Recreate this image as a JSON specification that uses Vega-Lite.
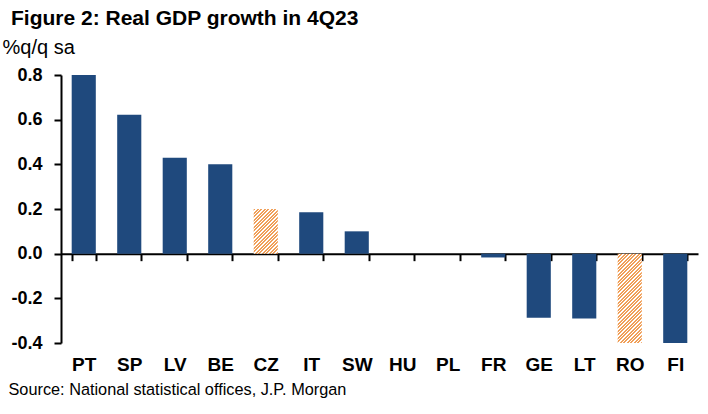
{
  "$schema": "https://vega.github.io/schema/vega-lite/v6.json",
  "width": 637,
  "height": 268,
  "autosize": {"type": "none"},
  "padding": {"left": 61, "top": 75, "right": 10, "bottom": 71},
  "background": "white",
  "config": {"view": {"stroke": null}, "font": "Liberation Sans"},
  "title": {
    "text": "Figure 2: Real GDP growth in 4Q23",
    "anchor": "start",
    "frame": "group",
    "dx": -50,
    "offset": 8,
    "fontSize": 21,
    "fontWeight": "bold",
    "color": "#000000",
    "font": "Liberation Sans"
  },
  "data": {
    "values": [
      {"country": "PT", "value": 0.80, "type": "actual"},
      {"country": "SP", "value": 0.622, "type": "actual"},
      {"country": "LV", "value": 0.43, "type": "actual"},
      {"country": "BE", "value": 0.40, "type": "actual"},
      {"country": "CZ", "value": 0.20, "type": "estimate"},
      {"country": "IT", "value": 0.185, "type": "actual"},
      {"country": "SW", "value": 0.10, "type": "actual"},
      {"country": "HU", "value": 0.0, "type": "actual"},
      {"country": "PL", "value": 0.0, "type": "actual"},
      {"country": "FR", "value": -0.017, "type": "actual"},
      {"country": "GE", "value": -0.287, "type": "actual"},
      {"country": "LT", "value": -0.29, "type": "actual"},
      {"country": "RO", "value": -0.40, "type": "estimate"},
      {"country": "FI", "value": -0.40, "type": "actual"}
    ]
  },
  "encoding": {
    "x": {
      "field": "country",
      "type": "nominal",
      "sort": null,
      "scale": {
        "domain": ["PT", "SP", "LV", "BE", "CZ", "IT", "SW", "HU", "PL", "FR", "GE", "LT", "RO", "FI"],
        "paddingInner": 0.47,
        "paddingOuter": 0.235
      },
      "axis": {
        "orient": "bottom",
        "offset": -89.33,
        "domainColor": "#000000",
        "domainWidth": 2,
        "tickColor": "#000000",
        "tickWidth": 2,
        "tickSize": 7,
        "tickBand": "extent",
        "labelAngle": 0,
        "labelFontSize": 19,
        "labelFontWeight": "bold",
        "labelColor": "#000000",
        "labelPadding": 110,
        "labelBaseline": "alphabetic",
        "title": "Source: National statistical offices, J.P. Morgan",
        "titleFontSize": 16.3,
        "titleFontWeight": "normal",
        "titleColor": "#000000",
        "titleAlign": "left",
        "titleBaseline": "alphabetic",
        "titleX": -53,
        "titleY": 141
      }
    },
    "y": {
      "field": "value",
      "type": "quantitative",
      "scale": {"domain": [-0.4, 0.8], "nice": false},
      "axis": {
        "values": [-0.4, -0.2, 0, 0.2, 0.4, 0.6, 0.8],
        "labelExpr": "replace(format(datum.value, '.1f'), '\u2212', '-')",
        "grid": false,
        "domainColor": "#000000",
        "domainWidth": 2,
        "tickColor": "#000000",
        "tickWidth": 2,
        "tickSize": 7,
        "labelFontSize": 18,
        "labelFontWeight": "bold",
        "labelColor": "#000000",
        "labelPadding": 12,
        "title": "%q/q sa",
        "titleAngle": 0,
        "titleAlign": "left",
        "titleBaseline": "alphabetic",
        "titleX": -59,
        "titleY": -22,
        "titleFontSize": 20,
        "titleFontWeight": "normal",
        "titleColor": "#000000"
      }
    }
  },
  "layer": [
    {
      "transform": [{"filter": "datum.type === 'actual'"}],
      "mark": {"type": "bar", "fill": "#1f497d"}
    },
    {
      "transform": [{"filter": "datum.country === 'CZ'"}],
      "mark": {
        "type": "bar",
        "fill": {
          "gradient": "linear", "x1": 0, "y1": 0, "x2": 1.0794, "y2": 2.002,
          "stops": [
            {"offset": 0, "color": "#f0a05a"}, {"offset": 0.0167, "color": "#f0a05a"}, {"offset": 0.0167, "color": "#ffffff"}, {"offset": 0.0303, "color": "#ffffff"},
            {"offset": 0.0303, "color": "#f0a05a"}, {"offset": 0.0470, "color": "#f0a05a"}, {"offset": 0.0470, "color": "#ffffff"}, {"offset": 0.0606, "color": "#ffffff"},
            {"offset": 0.0606, "color": "#f0a05a"}, {"offset": 0.0773, "color": "#f0a05a"}, {"offset": 0.0773, "color": "#ffffff"}, {"offset": 0.0909, "color": "#ffffff"},
            {"offset": 0.0909, "color": "#f0a05a"}, {"offset": 0.1076, "color": "#f0a05a"}, {"offset": 0.1076, "color": "#ffffff"}, {"offset": 0.1212, "color": "#ffffff"},
            {"offset": 0.1212, "color": "#f0a05a"}, {"offset": 0.1379, "color": "#f0a05a"}, {"offset": 0.1379, "color": "#ffffff"}, {"offset": 0.1515, "color": "#ffffff"},
            {"offset": 0.1515, "color": "#f0a05a"}, {"offset": 0.1682, "color": "#f0a05a"}, {"offset": 0.1682, "color": "#ffffff"}, {"offset": 0.1818, "color": "#ffffff"},
            {"offset": 0.1818, "color": "#f0a05a"}, {"offset": 0.1985, "color": "#f0a05a"}, {"offset": 0.1985, "color": "#ffffff"}, {"offset": 0.2121, "color": "#ffffff"},
            {"offset": 0.2121, "color": "#f0a05a"}, {"offset": 0.2288, "color": "#f0a05a"}, {"offset": 0.2288, "color": "#ffffff"}, {"offset": 0.2424, "color": "#ffffff"},
            {"offset": 0.2424, "color": "#f0a05a"}, {"offset": 0.2591, "color": "#f0a05a"}, {"offset": 0.2591, "color": "#ffffff"}, {"offset": 0.2727, "color": "#ffffff"},
            {"offset": 0.2727, "color": "#f0a05a"}, {"offset": 0.2894, "color": "#f0a05a"}, {"offset": 0.2894, "color": "#ffffff"}, {"offset": 0.3030, "color": "#ffffff"},
            {"offset": 0.3030, "color": "#f0a05a"}, {"offset": 0.3197, "color": "#f0a05a"}, {"offset": 0.3197, "color": "#ffffff"}, {"offset": 0.3333, "color": "#ffffff"},
            {"offset": 0.3333, "color": "#f0a05a"}, {"offset": 0.3500, "color": "#f0a05a"}, {"offset": 0.3500, "color": "#ffffff"}, {"offset": 0.3636, "color": "#ffffff"},
            {"offset": 0.3636, "color": "#f0a05a"}, {"offset": 0.3803, "color": "#f0a05a"}, {"offset": 0.3803, "color": "#ffffff"}, {"offset": 0.3939, "color": "#ffffff"},
            {"offset": 0.3939, "color": "#f0a05a"}, {"offset": 0.4106, "color": "#f0a05a"}, {"offset": 0.4106, "color": "#ffffff"}, {"offset": 0.4242, "color": "#ffffff"},
            {"offset": 0.4242, "color": "#f0a05a"}, {"offset": 0.4409, "color": "#f0a05a"}, {"offset": 0.4409, "color": "#ffffff"}, {"offset": 0.4545, "color": "#ffffff"},
            {"offset": 0.4545, "color": "#f0a05a"}, {"offset": 0.4712, "color": "#f0a05a"}, {"offset": 0.4712, "color": "#ffffff"}, {"offset": 0.4848, "color": "#ffffff"},
            {"offset": 0.4848, "color": "#f0a05a"}, {"offset": 0.5015, "color": "#f0a05a"}, {"offset": 0.5015, "color": "#ffffff"}, {"offset": 0.5152, "color": "#ffffff"},
            {"offset": 0.5152, "color": "#f0a05a"}, {"offset": 0.5319, "color": "#f0a05a"}, {"offset": 0.5319, "color": "#ffffff"}, {"offset": 0.5455, "color": "#ffffff"},
            {"offset": 0.5455, "color": "#f0a05a"}, {"offset": 0.5622, "color": "#f0a05a"}, {"offset": 0.5622, "color": "#ffffff"}, {"offset": 0.5758, "color": "#ffffff"},
            {"offset": 0.5758, "color": "#f0a05a"}, {"offset": 0.5925, "color": "#f0a05a"}, {"offset": 0.5925, "color": "#ffffff"}, {"offset": 0.6061, "color": "#ffffff"},
            {"offset": 0.6061, "color": "#f0a05a"}, {"offset": 0.6228, "color": "#f0a05a"}, {"offset": 0.6228, "color": "#ffffff"}, {"offset": 1, "color": "#ffffff"}
          ]
        }
      }
    },
    {
      "transform": [{"filter": "datum.country === 'RO'"}],
      "mark": {
        "type": "bar",
        "fill": {
          "gradient": "linear", "x1": 0, "y1": 0, "x2": 0.3254, "y2": 1.2056,
          "stops": [
            {"offset": 0, "color": "#f0a05a"}, {"offset": 0.0167, "color": "#f0a05a"}, {"offset": 0.0167, "color": "#ffffff"}, {"offset": 0.0303, "color": "#ffffff"},
            {"offset": 0.0303, "color": "#f0a05a"}, {"offset": 0.0470, "color": "#f0a05a"}, {"offset": 0.0470, "color": "#ffffff"}, {"offset": 0.0606, "color": "#ffffff"},
            {"offset": 0.0606, "color": "#f0a05a"}, {"offset": 0.0773, "color": "#f0a05a"}, {"offset": 0.0773, "color": "#ffffff"}, {"offset": 0.0909, "color": "#ffffff"},
            {"offset": 0.0909, "color": "#f0a05a"}, {"offset": 0.1076, "color": "#f0a05a"}, {"offset": 0.1076, "color": "#ffffff"}, {"offset": 0.1212, "color": "#ffffff"},
            {"offset": 0.1212, "color": "#f0a05a"}, {"offset": 0.1379, "color": "#f0a05a"}, {"offset": 0.1379, "color": "#ffffff"}, {"offset": 0.1515, "color": "#ffffff"},
            {"offset": 0.1515, "color": "#f0a05a"}, {"offset": 0.1682, "color": "#f0a05a"}, {"offset": 0.1682, "color": "#ffffff"}, {"offset": 0.1818, "color": "#ffffff"},
            {"offset": 0.1818, "color": "#f0a05a"}, {"offset": 0.1985, "color": "#f0a05a"}, {"offset": 0.1985, "color": "#ffffff"}, {"offset": 0.2121, "color": "#ffffff"},
            {"offset": 0.2121, "color": "#f0a05a"}, {"offset": 0.2288, "color": "#f0a05a"}, {"offset": 0.2288, "color": "#ffffff"}, {"offset": 0.2424, "color": "#ffffff"},
            {"offset": 0.2424, "color": "#f0a05a"}, {"offset": 0.2591, "color": "#f0a05a"}, {"offset": 0.2591, "color": "#ffffff"}, {"offset": 0.2727, "color": "#ffffff"},
            {"offset": 0.2727, "color": "#f0a05a"}, {"offset": 0.2894, "color": "#f0a05a"}, {"offset": 0.2894, "color": "#ffffff"}, {"offset": 0.3030, "color": "#ffffff"},
            {"offset": 0.3030, "color": "#f0a05a"}, {"offset": 0.3197, "color": "#f0a05a"}, {"offset": 0.3197, "color": "#ffffff"}, {"offset": 0.3333, "color": "#ffffff"},
            {"offset": 0.3333, "color": "#f0a05a"}, {"offset": 0.3500, "color": "#f0a05a"}, {"offset": 0.3500, "color": "#ffffff"}, {"offset": 0.3636, "color": "#ffffff"},
            {"offset": 0.3636, "color": "#f0a05a"}, {"offset": 0.3803, "color": "#f0a05a"}, {"offset": 0.3803, "color": "#ffffff"}, {"offset": 0.3939, "color": "#ffffff"},
            {"offset": 0.3939, "color": "#f0a05a"}, {"offset": 0.4106, "color": "#f0a05a"}, {"offset": 0.4106, "color": "#ffffff"}, {"offset": 0.4242, "color": "#ffffff"},
            {"offset": 0.4242, "color": "#f0a05a"}, {"offset": 0.4409, "color": "#f0a05a"}, {"offset": 0.4409, "color": "#ffffff"}, {"offset": 0.4545, "color": "#ffffff"},
            {"offset": 0.4545, "color": "#f0a05a"}, {"offset": 0.4712, "color": "#f0a05a"}, {"offset": 0.4712, "color": "#ffffff"}, {"offset": 0.4848, "color": "#ffffff"},
            {"offset": 0.4848, "color": "#f0a05a"}, {"offset": 0.5015, "color": "#f0a05a"}, {"offset": 0.5015, "color": "#ffffff"}, {"offset": 0.5152, "color": "#ffffff"},
            {"offset": 0.5152, "color": "#f0a05a"}, {"offset": 0.5319, "color": "#f0a05a"}, {"offset": 0.5319, "color": "#ffffff"}, {"offset": 0.5455, "color": "#ffffff"},
            {"offset": 0.5455, "color": "#f0a05a"}, {"offset": 0.5622, "color": "#f0a05a"}, {"offset": 0.5622, "color": "#ffffff"}, {"offset": 0.5758, "color": "#ffffff"},
            {"offset": 0.5758, "color": "#f0a05a"}, {"offset": 0.5925, "color": "#f0a05a"}, {"offset": 0.5925, "color": "#ffffff"}, {"offset": 0.6061, "color": "#ffffff"},
            {"offset": 0.6061, "color": "#f0a05a"}, {"offset": 0.6228, "color": "#f0a05a"}, {"offset": 0.6228, "color": "#ffffff"}, {"offset": 0.6364, "color": "#ffffff"},
            {"offset": 0.6364, "color": "#f0a05a"}, {"offset": 0.6531, "color": "#f0a05a"}, {"offset": 0.6531, "color": "#ffffff"}, {"offset": 0.6667, "color": "#ffffff"},
            {"offset": 0.6667, "color": "#f0a05a"}, {"offset": 0.6834, "color": "#f0a05a"}, {"offset": 0.6834, "color": "#ffffff"}, {"offset": 0.6970, "color": "#ffffff"},
            {"offset": 0.6970, "color": "#f0a05a"}, {"offset": 0.7137, "color": "#f0a05a"}, {"offset": 0.7137, "color": "#ffffff"}, {"offset": 0.7273, "color": "#ffffff"},
            {"offset": 0.7273, "color": "#f0a05a"}, {"offset": 0.7440, "color": "#f0a05a"}, {"offset": 0.7440, "color": "#ffffff"}, {"offset": 0.7576, "color": "#ffffff"},
            {"offset": 0.7576, "color": "#f0a05a"}, {"offset": 0.7743, "color": "#f0a05a"}, {"offset": 0.7743, "color": "#ffffff"}, {"offset": 0.7879, "color": "#ffffff"},
            {"offset": 0.7879, "color": "#f0a05a"}, {"offset": 0.8046, "color": "#f0a05a"}, {"offset": 0.8046, "color": "#ffffff"}, {"offset": 0.8182, "color": "#ffffff"},
            {"offset": 0.8182, "color": "#f0a05a"}, {"offset": 0.8349, "color": "#f0a05a"}, {"offset": 0.8349, "color": "#ffffff"}, {"offset": 0.8485, "color": "#ffffff"},
            {"offset": 0.8485, "color": "#f0a05a"}, {"offset": 0.8652, "color": "#f0a05a"}, {"offset": 0.8652, "color": "#ffffff"}, {"offset": 0.8788, "color": "#ffffff"},
            {"offset": 0.8788, "color": "#f0a05a"}, {"offset": 0.8955, "color": "#f0a05a"}, {"offset": 0.8955, "color": "#ffffff"}, {"offset": 0.9091, "color": "#ffffff"},
            {"offset": 0.9091, "color": "#f0a05a"}, {"offset": 0.9258, "color": "#f0a05a"}, {"offset": 0.9258, "color": "#ffffff"}, {"offset": 0.9394, "color": "#ffffff"},
            {"offset": 0.9394, "color": "#f0a05a"}, {"offset": 0.9561, "color": "#f0a05a"}, {"offset": 0.9561, "color": "#ffffff"}, {"offset": 0.9697, "color": "#ffffff"},
            {"offset": 0.9697, "color": "#f0a05a"}, {"offset": 0.9864, "color": "#f0a05a"}, {"offset": 0.9864, "color": "#ffffff"}, {"offset": 1, "color": "#ffffff"}
          ]
        }
      }
    }
  ]
}
